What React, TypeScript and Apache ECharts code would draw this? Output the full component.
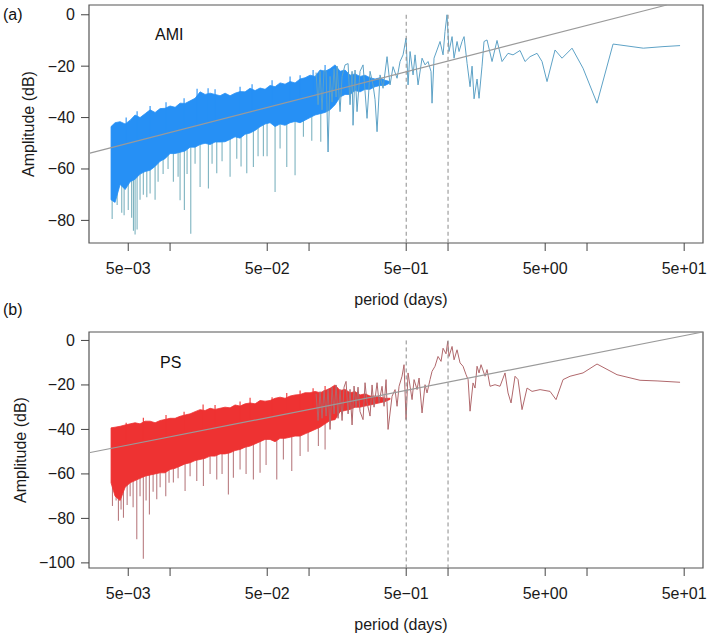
import { useEffect, useRef } from 'react'
import * as echarts from 'echarts'

// periods (days) of the dense, short-period part of both spectra
const bandPeriod = [0.00376, 0.00402, 0.00437, 0.00475, 0.00516, 0.0056, 0.00608, 0.00661, 0.00718, 0.0078, 0.00848, 0.0092, 0.01, 0.01087, 0.0118, 0.01282, 0.01393, 0.01513, 0.01644, 0.01786, 0.0194, 0.02107, 0.02289, 0.02487, 0.02702, 0.02935, 0.03188, 0.03464, 0.03763, 0.04088, 0.04441, 0.04825, 0.05241, 0.05694, 0.06186, 0.0672, 0.073, 0.0793, 0.0862, 0.0936, 0.1017, 0.1105, 0.12, 0.1304, 0.1416, 0.1539, 0.1671, 0.1816, 0.1972, 0.2142, 0.2327, 0.2528, 0.2747, 0.2984, 0.3242, 0.3522, 0.3826]

// (a) AMI
const amiBandTop = [-43.5, -42, -41.6, -42.5, -41, -39, -40, -38.5, -37, -38, -36.5, -36.4, -35.5, -36, -34.4, -34.5, -33.5, -32.5, -30, -31, -30.5, -31, -31.5, -30.5, -31.5, -30.5, -29.9, -30, -28.6, -29.5, -28.5, -29, -27.5, -28, -26.5, -27, -26, -26.5, -25, -24.5, -23.5, -24, -21.5, -22, -21, -19.5, -22, -21.5, -23.5, -23, -24, -23.5, -24.5, -25, -24.5, -25.5, -26]
const amiBandBottom = [-72, -73, -66, -68, -65, -64, -62, -61, -60.5, -59, -57, -56, -54, -54, -53.5, -53, -51.5, -51.5, -50.5, -50, -50.5, -49.5, -49.5, -49.4, -48.5, -47.5, -48, -46.5, -46, -45, -43.6, -42.5, -42, -43.5, -42.5, -43, -42, -41.5, -42, -41, -40, -39, -38.5, -38, -37, -35, -32, -31, -31, -29.5, -30, -29, -29, -28, -27.5, -27.5, -26.5]
const amiPeakPeriod = [0.00483, 0.00579, 0.00718, 0.00935, 0.01261, 0.01564, 0.01877, 0.02107, 0.03188, 0.0389, 0.05418, 0.073, 0.0862, 0.1069, 0.1304]
const amiPeakHigh = [-40, -37.5, -35.5, -34, -32.5, -28.8, -28.6, -29, -28, -27, -25.5, -24, -23.5, -21.5, -19.5]
const amiSpikePeriod = [0.00383, 0.00416, 0.00449, 0.00467, 0.005, 0.00529, 0.00545, 0.0056, 0.00579, 0.00608, 0.00642, 0.0068, 0.00718, 0.0078, 0.0082, 0.00891, 0.00967, 0.01056, 0.01142, 0.0118, 0.01267, 0.01325, 0.01409, 0.01513, 0.01644, 0.01887, 0.02005, 0.02167, 0.02366, 0.02702, 0.03019, 0.03241, 0.03563, 0.03975, 0.04296, 0.04691, 0.04988, 0.05694, 0.06186, 0.06912, 0.0793, 0.09105, 0.1046, 0.1214]
const amiSpikeLow = [-79.5, -74, -77, -78, -76, -79, -84, -85.5, -83.5, -72, -70, -71, -69.5, -72, -65, -62, -60, -65, -63, -72.2, -76, -62, -85.2, -58, -67, -67.6, -58, -61.7, -57, -63, -56, -59, -61.7, -59.2, -55, -55, -55, -69, -52, -59.2, -62.4, -47.5, -49, -49.4]
const amiLinePeriod = [0.1123, 0.1161, 0.12, 0.124, 0.1282, 0.1326, 0.137, 0.1416, 0.1464, 0.1513, 0.1565, 0.1591, 0.1671, 0.1728, 0.1816, 0.1909, 0.1972, 0.2039, 0.2072, 0.2142, 0.2214, 0.2327, 0.2446, 0.2613, 0.2747, 0.2887, 0.2984, 0.3085, 0.3242, 0.3407, 0.3641, 0.3826, 0.4021, 0.4296, 0.4515, 0.4745, 0.4987, 0.5155, 0.533, 0.5602, 0.579, 0.6085, 0.6502, 0.683, 0.7178, 0.7544, 0.767, 0.7928, 0.8332, 0.876, 0.9207, 0.951, 0.983, 1.016, 1.069, 1.105, 1.161, 1.2, 1.261, 1.304, 1.371, 1.44, 1.489, 1.539, 1.617, 1.671, 1.756, 1.815, 1.908, 2.073, 2.251, 2.446, 2.702, 2.935, 3.296, 3.581, 3.89, 4.368, 4.746, 5.156, 5.886, 6.61, 7.8, 9.36, 11.8, 15.39, 16.44, 25.4, 35.2, 46.7]
const amiLineAmp = [-22.5, -35, -22, -37, -21.5, -22, -53.4, -24, -34, -21, -32, -20, -37.7, -24, -19.5, -19, -35, -22, -43, -21.5, -37.7, -22, -19.5, -40.3, -22, -27.3, -33, -45.5, -23.4, -28.6, -16.3, -27.3, -20.2, -24.7, -18.2, -15.6, -9.1, -27.3, -14.3, -23.4, -15.6, -27.3, -16.9, -19.5, -18.2, -22.1, -34.4, -16.9, -13.7, -10.4, -15.6, -6.5, 0, -14.3, -8.5, -16.9, -10.4, -14.3, -10.4, -8.5, -18.9, -28, -20, -32.7, -25, -32.5, -20, -10.4, -9.8, -18.2, -10, -18.2, -15, -15.6, -13.9, -18.2, -16.3, -15, -18.2, -26, -13.7, -16.9, -13, -20.8, -34.4, -11.4, -11.6, -13, -12.4, -12]
const amiTrendPeriod = [0.00261, 37.4]
const amiTrendAmp = [-53.9, 3.8]

// (b) PS
const psBandTop = [-39.3, -39, -38.6, -38, -37.5, -37, -37.5, -36.3, -36.3, -37, -36, -35.5, -35, -35, -34.1, -33.5, -33, -32, -31.1, -31.5, -30.5, -31, -30.5, -30, -30.3, -29, -29.5, -28.5, -28.1, -28.5, -27, -27.3, -27, -26, -25.5, -26, -25, -24.5, -24.3, -23.5, -23.5, -22.9, -23.5, -22.5, -21.5, -20, -22.5, -22, -23.5, -23, -24.5, -24, -25, -25, -25.5, -26, -26]
const psBandBottom = [-64, -70, -72, -66, -64, -63, -62, -61, -60.5, -60, -59.5, -59.5, -58, -57.5, -56.5, -55.5, -55, -54, -53.5, -53, -52, -52, -51, -51, -50.5, -49.5, -49, -48, -47.5, -46.5, -45.5, -44.5, -44.5, -45.5, -44, -44, -43.5, -43, -43, -42, -41, -40, -39, -37.5, -36, -35.6, -32, -31.5, -31, -30, -30, -29.5, -29, -28.5, -28, -27.5, -26.5]
const psPeakPeriod = [0.00483, 0.00642, 0.00935, 0.01261, 0.01728, 0.02107, 0.03188, 0.03763, 0.05418, 0.06912, 0.0862, 0.1069, 0.1304]
const psPeakHigh = [-37, -34.8, -33.5, -32, -28.8, -29, -27.5, -25.8, -25.5, -23.6, -22.5, -21.5, -20.5]
const psSpikePeriod = [0.00385, 0.00409, 0.00425, 0.00444, 0.00462, 0.00491, 0.00516, 0.00542, 0.00576, 0.00608, 0.00642, 0.00672, 0.0071, 0.00755, 0.00802, 0.00848, 0.00931, 0.00983, 0.01056, 0.01142, 0.01282, 0.01393, 0.01556, 0.01737, 0.0194, 0.02167, 0.02366, 0.02627, 0.02854, 0.03188, 0.03522, 0.03975, 0.04441, 0.04906, 0.05856, 0.06534, 0.07508, 0.0862, 0.09837, 0.1167, 0.1304]
const psSpikeLow = [-74.4, -72, -81.1, -76, -79.7, -74, -70, -75, -89.4, -70, -98.1, -72, -78.2, -68, -71.4, -66, -70, -64, -63.9, -62, -67.7, -61, -63.2, -65.4, -60, -62.5, -60, -69.2, -61.7, -58, -60, -62.5, -59.5, -56, -62.5, -53.5, -58.7, -52, -50, -47.5, -49]
const psLinePeriod = [0.1123, 0.1161, 0.12, 0.124, 0.1282, 0.1326, 0.137, 0.1416, 0.1464, 0.1513, 0.1565, 0.1617, 0.1671, 0.1728, 0.1785, 0.1846, 0.1909, 0.1972, 0.2039, 0.2107, 0.2178, 0.2251, 0.2327, 0.2446, 0.2528, 0.2613, 0.2747, 0.284, 0.2935, 0.3085, 0.3188, 0.3351, 0.3464, 0.3581, 0.3702, 0.3955, 0.4156, 0.4296, 0.4441, 0.4667, 0.4824, 0.4987, 0.5155, 0.551, 0.5695, 0.5985, 0.6187, 0.6502, 0.683, 0.706, 0.742, 0.767, 0.806, 0.8471, 0.8906, 0.9207, 0.9669, 0.995, 1.016, 1.069, 1.105, 1.161, 1.22, 1.282, 1.348, 1.394, 1.44, 1.513, 1.564, 1.617, 1.671, 1.727, 1.846, 1.908, 2.005, 2.178, 2.366, 2.571, 2.702, 2.84, 3.034, 3.189, 3.407, 3.702, 4.021, 4.591, 5.418, 5.984, 6.721, 7.546, 9.36, 11.8, 16.44, 24.06, 31.9, 46.7]
const psLineAmp = [-24, -36, -23, -35, -22.5, -34, -22, -40, -21, -33, -20, -35, -22, -36, -21, -18.4, -33, -22, -38, -20.5, -30, -21, -32, -35.6, -19, -28, -34, -20, -30, -19, -28, -20.6, -29.6, -17.6, -40, -25.1, -22.1, -29.6, -20.6, -16.1, -10.9, -35.6, -14.6, -26.6, -17.6, -22.1, -16.9, -32.6, -19.9, -23.6, -17.6, -13.9, -11.6, -7.2, -9.4, -3.5, -6, -0.4, -7.2, -2.7, -8.7, -4.2, -10.1, -11.6, -15.4, -17.6, -31.8, -19.1, -21.4, -11.6, -14.6, -10.9, -16.1, -13.1, -20.6, -19.9, -20.6, -14.6, -23.6, -28.1, -16.1, -17.6, -31.1, -21.4, -22.9, -22.1, -22.9, -26.6, -17.6, -16.1, -14.6, -10.6, -15.4, -17.9, -18.2, -18.8]
const psTrendPeriod = [0.00261, 67.9]
const psTrendAmp = [-50.5, 3.8]

// 12 h and 24 h markers, drawn from 0 dB down
const dayMarks = [0.5, 1]

const xTickValues = [0.005, 0.01, 0.05, 0.1, 0.5, 1, 5, 10, 50]
const xLabelValues = [0.005, 0.05, 0.5, 5, 50]
const xLabelText = ['5e−03', '5e−02', '5e−01', '5e+00', '5e+01']
const amiYTicks = [0, -20, -40, -60, -80]
const psYTicks = [0, -20, -40, -60, -80, -100]

const FONT = 'Liberation Sans, Arial, Helvetica, sans-serif'
const X_MIN = 0.00261
const X_MAX = 68.3
const Y_MAX = 3.8
const TICK_LEN = 8

function trendAt(tp: number[], ta: number[], p: number) {
  const l0 = Math.log10(tp[0]), l1 = Math.log10(tp[1])
  return ta[0] + (ta[1] - ta[0]) * (Math.log10(p) - l0) / (l1 - l0)
}

// vertical strokes from the fitted line to a value, for the single peaks/dips of the dense part
function strokes(idx: number, ps: number[], vs: number[], tp: number[], ta: number[], color: string, z: number) {
  return {
    type: 'custom', xAxisIndex: idx, yAxisIndex: idx, z,
    data: ps.map((p, i) => [p, vs[i]]),
    renderItem: (_params: any, api: any) => {
      const p = api.value(0)
      const a = api.coord([p, api.value(1)])
      const b = api.coord([p, trendAt(tp, ta, p)])
      return { type: 'line', shape: { x1: a[0], y1: a[1], x2: b[0], y2: b[1] }, style: { stroke: color, lineWidth: 1.1 } }
    },
  }
}

// outward tick marks on the bottom and left edges of a panel
function tickMarks(idx: number, yMin: number, yTicks: number[]) {
  const pts = [
    ...xTickValues.map((v) => [v, yMin, 0]),
    ...yTicks.map((v) => [X_MIN, v, 1]),
  ]
  return {
    type: 'custom', xAxisIndex: idx, yAxisIndex: idx, z: 6, silent: true,
    data: pts,
    renderItem: (_params: any, api: any) => {
      const c = api.coord([api.value(0), api.value(1)])
      const vertical = api.value(2) === 0
      return {
        type: 'line',
        shape: vertical
          ? { x1: c[0], y1: c[1], x2: c[0], y2: c[1] + TICK_LEN }
          : { x1: c[0], y1: c[1], x2: c[0] - TICK_LEN, y2: c[1] },
        style: { stroke: '#444', lineWidth: 1 },
      }
    },
  }
}

// dashed vertical markers from 0 dB to the bottom of the panel
function dayLines(idx: number, yMin: number) {
  return {
    type: 'custom', xAxisIndex: idx, yAxisIndex: idx, z: 5, silent: true,
    data: dayMarks.map((d) => [d, 0]),
    renderItem: (_params: any, api: any) => {
      const a = api.coord([api.value(0), api.value(1)])
      const b = api.coord([api.value(0), yMin])
      return { type: 'line', shape: { x1: a[0], y1: a[1], x2: b[0], y2: b[1] }, style: { stroke: '#8c8c8c', lineWidth: 1, lineDash: [4, 3] } }
    },
  }
}

function panelSeries(idx: number, o: {
  top: number[]; bottom: number[]; peakP: number[]; peakHigh: number[]; spikeP: number[]; spikeLow: number[]
  lineP: number[]; lineA: number[]; trendP: number[]; trendA: number[]
  band: string; spike: string; line: string; yMin: number; yTicks: number[]
}) {
  return [
    strokes(idx, o.spikeP, o.spikeLow, o.trendP, o.trendA, o.spike, 2),
    {
      type: 'custom', xAxisIndex: idx, yAxisIndex: idx, z: 3,
      data: bandPeriod.map((p, i) => [p, o.top[i], o.bottom[i]]),
      renderItem: (params: any, api: any) => {
        if (params.dataIndex !== 0) return { type: 'group', children: [] }
        const upper = bandPeriod.map((p, i) => api.coord([p, o.top[i]]))
        const lower = bandPeriod.map((p, i) => api.coord([p, o.bottom[i]])).reverse()
        return { type: 'polygon', shape: { points: upper.concat(lower) }, style: { fill: o.band, stroke: o.band, lineWidth: 0.8 } }
      },
    },
    strokes(idx, o.peakP, o.peakHigh, o.trendP, o.trendA, o.band, 3),
    {
      type: 'line', xAxisIndex: idx, yAxisIndex: idx, z: 4,
      data: o.lineP.map((p, i) => [p, o.lineA[i]]),
      showSymbol: false, symbol: 'none',
      lineStyle: { color: o.line, width: 1 },
    },
    {
      type: 'line', xAxisIndex: idx, yAxisIndex: idx, z: 5,
      data: o.trendP.map((p, i) => [p, o.trendA[i]]),
      showSymbol: false, symbol: 'none',
      lineStyle: { color: '#9a9a9a', width: 1.2 },
    },
    dayLines(idx, o.yMin),
    tickMarks(idx, o.yMin, o.yTicks),
  ]
}

function xAxis(idx: number) {
  return {
    type: 'log', gridIndex: idx, min: X_MIN, max: X_MAX,
    name: 'period (days)', nameLocation: 'middle', nameGap: 48,
    nameTextStyle: { fontSize: 16, fontFamily: FONT, color: '#1a1a1a', padding: [0, 0, 0, 10] },
    axisLine: { show: false, onZero: false },
    splitLine: { show: false },
    axisTick: { show: false },
    axisLabel: {
      show: true, margin: 17, fontSize: 16, fontFamily: FONT, color: '#1a1a1a',
      customValues: xLabelValues,
      formatter: (v: number) => {
        const i = xLabelValues.findIndex((l) => Math.abs(Math.log10(l) - Math.log10(v)) < 1e-3)
        return i >= 0 ? xLabelText[i] : ''
      },
    },
  }
}

function yAxis(idx: number, min: number, ticks: number[]) {
  return {
    type: 'value', gridIndex: idx, min, max: Y_MAX,
    name: 'Amplitude (dB)', nameLocation: 'middle', nameGap: 50, nameRotate: 90,
    nameTextStyle: { fontSize: 16, fontFamily: FONT, color: '#1a1a1a' },
    axisLine: { show: false, onZero: false },
    splitLine: { show: false },
    axisTick: { show: false },
    axisLabel: {
      show: true, margin: 14, fontSize: 16, fontFamily: FONT, color: '#1a1a1a',
      customValues: ticks,
      formatter: (v: number) => (v === 0 ? '0' : '−' + Math.abs(v)),
    },
  }
}

export default function App() {
  const ref = useRef<HTMLDivElement>(null)

  useEffect(() => {
    if (!ref.current) return
    const chart = echarts.init(ref.current, undefined, { renderer: 'svg' })
    const amiMin = -88.8
    const psMin = -102.3
    chart.setOption({
      animation: false,
      backgroundColor: '#ffffff',
      grid: [
        { left: 89, top: 5, width: 614, height: 238, show: true, borderColor: '#555', borderWidth: 1.2, backgroundColor: 'transparent' },
        { left: 89, top: 332, width: 614, height: 236, show: true, borderColor: '#555', borderWidth: 1.2, backgroundColor: 'transparent' },
      ],
      xAxis: [xAxis(0), xAxis(1)],
      yAxis: [yAxis(0, amiMin, amiYTicks), yAxis(1, psMin, psYTicks)],
      graphic: [
        { type: 'text', left: 3, top: 6, style: { text: '(a)', fontSize: 16, fontFamily: FONT, fill: '#111' } },
        { type: 'text', left: 155, top: 26, style: { text: 'AMI', fontSize: 16, fontFamily: FONT, fill: '#111' } },
        { type: 'text', left: 3, top: 301, style: { text: '(b)', fontSize: 16, fontFamily: FONT, fill: '#111' } },
        { type: 'text', left: 160, top: 354, style: { text: 'PS', fontSize: 16, fontFamily: FONT, fill: '#111' } },
      ],
      series: [
        ...panelSeries(0, {
          top: amiBandTop, bottom: amiBandBottom, peakP: amiPeakPeriod, peakHigh: amiPeakHigh,
          spikeP: amiSpikePeriod, spikeLow: amiSpikeLow,
          lineP: amiLinePeriod, lineA: amiLineAmp, trendP: amiTrendPeriod, trendA: amiTrendAmp,
          band: '#2690f5', spike: '#7db3c0', line: '#5ea2c6', yMin: amiMin, yTicks: amiYTicks,
        }),
        ...panelSeries(1, {
          top: psBandTop, bottom: psBandBottom, peakP: psPeakPeriod, peakHigh: psPeakHigh,
          spikeP: psSpikePeriod, spikeLow: psSpikeLow,
          lineP: psLinePeriod, lineA: psLineAmp, trendP: psTrendPeriod, trendA: psTrendAmp,
          band: '#ee3232', spike: '#b97c80', line: '#b0686c', yMin: psMin, yTicks: psYTicks,
        }),
      ],
    })
    return () => chart.dispose()
  }, [])

  return <div ref={ref} style={{ position: 'absolute', left: 0, top: 0, width: 710, height: 633 }} />
}
